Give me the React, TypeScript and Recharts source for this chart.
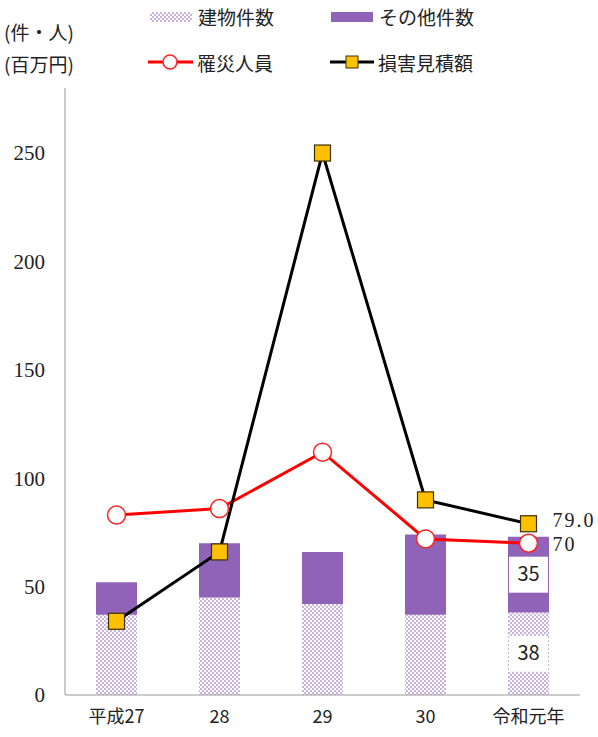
import React from 'react';
import { ComposedChart, Bar, Line, XAxis, YAxis, LabelList } from 'recharts';

const categories = ['平成27', '28', '29', '30', '令和元年'];
const buildingCounts = [37, 45, 42, 37, 38];
const otherCounts = [15, 25, 24, 37, 35];
const victims = [83, 86, 112, 72, 70];
const damage = [34, 66, 250, 90, 79.0];
const yTicks = [0, 50, 100, 150, 200, 250];

const data = categories.map((c, i) => ({
  name: c,
  building: buildingCounts[i],
  other: otherCounts[i],
  victims: victims[i],
  damage: damage[i],
}));

const PURPLE = '#9063b9';
const LAV = '#c9b2e2';
const JP = '"Noto Sans CJK JP", "Noto Sans", sans-serif';
const SERIF = '"Liberation Serif", "DejaVu Serif", serif';

const lastIdx = categories.length - 1;

const BoxLabel = (props: any) => {
  const { x, y, width, height, value, index } = props;
  if (index !== lastIdx) return null;
  const cx = x + width / 2;
  const cy = y + height / 2;
  const bw = width - 2;
  const bh = 36;
  return (
    <g>
      <rect x={cx - bw / 2} y={cy - bh / 2} width={bw} height={bh} fill="#fff" />
      <text x={cx} y={cy + 1} textAnchor="middle" dominantBaseline="middle" fontFamily={JP} fontSize={20} fill="#222">
        {value}
      </text>
    </g>
  );
};

const SideLabel = (dy: number, fmt: (v: number) => string) => (props: any) => {
  const { x, y, value, index } = props;
  if (index !== lastIdx) return null;
  return (
    <text x={x + 24} y={y + dy} dominantBaseline="middle" fontFamily={SERIF} fontSize={20} letterSpacing={2} fill="#222">
      {fmt(value)}
    </text>
  );
};

const SquareDot = (props: any) => {
  const { cx, cy, index } = props;
  if (cx == null || cy == null) return <g key={index} />;
  return <rect key={index} x={cx - 8} y={cy - 8} width={16} height={16} fill="#ffc000" stroke="#3a3000" strokeWidth={1.2} />;
};

const CircleDot = (props: any) => {
  const { cx, cy, index } = props;
  if (cx == null || cy == null) return <g key={index} />;
  return <circle key={index} cx={cx} cy={cy} r={9} fill="#fff" stroke="#ff2020" strokeWidth={1.5} />;
};

const XTick = (props: any) => {
  const { x, y, payload } = props;
  return (
    <text x={x} y={y + 20} textAnchor="middle" fontFamily={JP} fontSize={18} fill="#222">
      {payload.value}
    </text>
  );
};

export default function App() {
  return (
    <div style={{ position: 'absolute', left: 0, top: 0, width: 598, height: 737, background: '#fff' }}>
      <div style={{ position: 'absolute', left: 4, top: 16, fontFamily: JP, fontSize: 19, lineHeight: '32px', color: '#222' }}>
        <div>(件・人)</div>
        <div>(百万円)</div>
      </div>
      <div style={{ position: 'absolute', left: 0, top: 0, width: 598, height: 90, fontFamily: JP, fontSize: 19, color: '#222' }}>
        <svg width={598} height={90} style={{ position: 'absolute', left: 0, top: 0 }}>
          <defs>
            <pattern id="lgPat" width={4} height={4} patternUnits="userSpaceOnUse">
              <rect width={4} height={4} fill="#fff" />
              <rect x={0} y={0} width={2} height={2} fill={LAV} />
              <rect x={2} y={2} width={2} height={2} fill={LAV} />
            </pattern>
          </defs>
          <rect x={150} y={12} width={42} height={10} fill="url(#lgPat)" />
          <rect x={331} y={12} width={42} height={10} fill={PURPLE} />
          <line x1={148} y1={62} x2={193} y2={62} stroke="#ff0000" strokeWidth={3} />
          <circle cx={170} cy={62} r={7} fill="#fff" stroke="#ff2020" strokeWidth={1.5} />
          <line x1={330} y1={62} x2={374} y2={62} stroke="#000" strokeWidth={3} />
          <rect x={346} y={56} width={12} height={12} fill="#ffc000" stroke="#3a3000" strokeWidth={1} />
        </svg>
        <div style={{ position: 'absolute', left: 198, top: 3 }}>建物件数</div>
        <div style={{ position: 'absolute', left: 379, top: 3 }}>その他件数</div>
        <div style={{ position: 'absolute', left: 197, top: 49 }}>罹災人員</div>
        <div style={{ position: 'absolute', left: 378, top: 49 }}>損害見積額</div>
      </div>
      <ComposedChart width={598} height={737} data={data} margin={{ top: 88, right: 18, left: 5, bottom: 12 }}>
        <defs>
          <pattern id="bldPat" width={4} height={4} patternUnits="userSpaceOnUse">
            <rect width={4} height={4} fill="#fff" />
            <rect x={0} y={0} width={2} height={2} fill={LAV} />
            <rect x={2} y={2} width={2} height={2} fill={LAV} />
          </pattern>
        </defs>
        <XAxis dataKey="name" tickLine={false} axisLine={{ stroke: '#999' }} tick={<XTick />} interval={0} height={30} />
        <YAxis
          domain={[0, 280]}
          ticks={yTicks}
          width={60}
          tickLine={false}
          axisLine={{ stroke: '#999' }}
          tickMargin={14}
          tick={{ fontFamily: SERIF, fontSize: 21, fill: '#222' }}
        />
        <Bar dataKey="building" stackId="a" fill="url(#bldPat)" barSize={41} isAnimationActive={false}>
          <LabelList dataKey="building" content={BoxLabel} />
        </Bar>
        <Bar dataKey="other" stackId="a" fill={PURPLE} barSize={41} isAnimationActive={false}>
          <LabelList dataKey="other" content={BoxLabel} />
        </Bar>
        <Line dataKey="victims" stroke="#ff0000" strokeWidth={3} dot={<CircleDot />} activeDot={false} isAnimationActive={false}>
          <LabelList dataKey="victims" content={SideLabel(3, (v) => String(v))} />
        </Line>
        <Line dataKey="damage" stroke="#000" strokeWidth={3} dot={<SquareDot />} activeDot={false} isAnimationActive={false}>
          <LabelList dataKey="damage" content={SideLabel(-1, (v) => v.toFixed(1))} />
        </Line>
      </ComposedChart>
    </div>
  );
}
